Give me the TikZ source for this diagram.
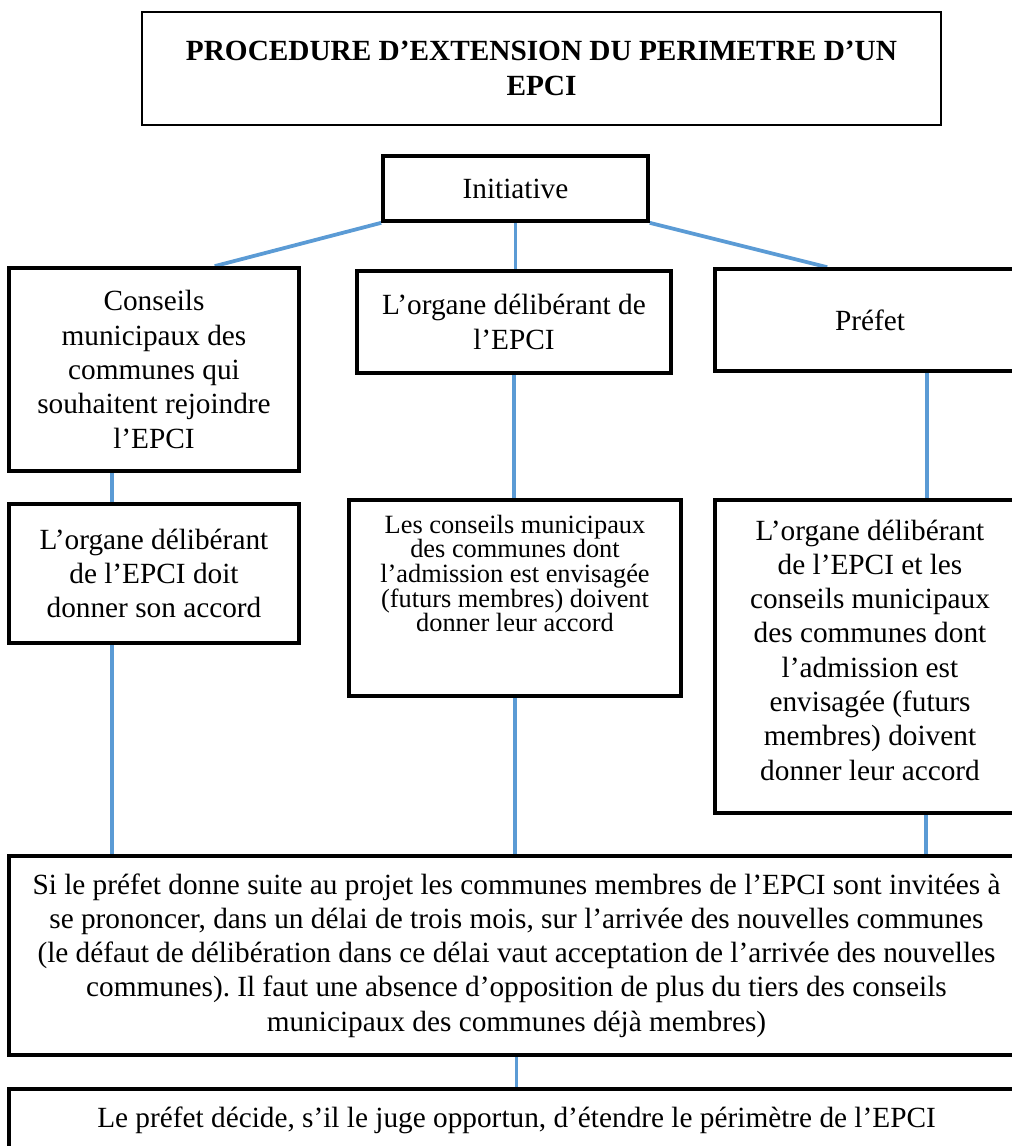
\documentclass[tikz,border=0pt]{standalone}
\usepackage{fontspec}
\setmainfont{Liberation Serif}
\frenchspacing
\usetikzlibrary{backgrounds}
\definecolor{linkblue}{RGB}{91,155,213}

\begin{document}
\begin{tikzpicture}[
    box/.style={draw, line width=1.8pt, fill=white, align=center, font=\fontsize{14}{16.4}\selectfont},
    topbox/.style={draw, line width=1.8pt, fill=white, inner xsep=0pt},
    link/.style={draw=linkblue, line width=1.8pt}
]
  \useasboundingbox (0,0) rectangle (17.0,-19.253);

  % Titre
  \node[box, line width=0.8pt, minimum width=13.42cm, minimum height=1.90cm, font=\fontsize{14}{16.4}\selectfont\bfseries] (titre) at (9.097,-1.151) {PROCEDURE D’EXTENSION DU PERIMETRE D’UN\\EPCI};

  % Initiative
  \node[box, minimum width=4.45cm, minimum height=1.09cm] (init) at (8.660,-3.167) {Initiative};

  % Qui prend l'initiative
  \node[box, minimum width=4.87cm, minimum height=3.41cm] (conseils) at (2.587,-6.208) {Conseils\\municipaux des\\communes qui\\souhaitent rejoindre\\l’EPCI};
  \node[box, minimum width=5.28cm, minimum height=1.71cm] (organe) at (8.635,-5.410) {L’organe délibérant de\\l’EPCI};
  \node[box, minimum width=5.21cm, minimum height=1.71cm] (prefet) at (14.616,-5.376) {Préfet};

  % Accords
  \node[box, minimum width=4.87cm, minimum height=2.335cm] (accordA) at (2.587,-9.635) {L’organe délibérant\\de l’EPCI doit\\donner son accord};
  \node[topbox, inner ysep=0.25cm] (accordB) at (8.652,-10.046) {\parbox[c][2.793cm][t]{5.578cm}{\centering\fontsize{12.6}{11.8}\selectfont
    Les conseils municipaux\\des communes dont\\l’admission est envisagée\\(futurs membres) doivent\\donner leur accord}};
  \node[topbox, inner ysep=0.33cm] (accordC) at (14.616,-11.029) {\parbox[c][4.598cm][t]{5.21cm}{\centering\fontsize{14}{16.4}\selectfont
    L’organe délibérant\\de l’EPCI et les\\conseils municipaux\\des communes dont\\l’admission est\\envisagée (futurs\\membres) doivent\\donner leur accord}};

  % Consultation et decision
  \node[box, minimum width=17.05cm, minimum height=3.343cm] (consult) at (8.677,-16.052) {Si le préfet donne suite au projet les communes membres de l’EPCI sont invitées à\\se prononcer, dans un délai de trois mois, sur l’arrivée des nouvelles communes\\(le défaut de délibération dans ce délai vaut acceptation de l’arrivée des nouvelles\\communes). Il faut une absence d’opposition de plus du tiers des conseils\\municipaux des communes déjà membres)};
  \node[box, minimum width=17.05cm, minimum height=1.058cm] (decision) at (8.677,-18.824) {Le préfet décide, s’il le juge opportun, d’étendre le périmètre de l’EPCI};

  % Liens
  \begin{scope}[on background layer]
    \draw[link] (init.south west) -- ([xshift=1.02cm]conseils.north);
    \draw[link] (init.south) -- (init.south |- organe.north);
    \draw[link] (init.south east) -- ([xshift=-0.72cm]prefet.north);
    \draw[link] ([xshift=-0.71cm]conseils.south) -- ([xshift=-0.71cm]accordA.north);
    \draw[link] (organe.south) -- (organe.south |- accordB.north);
    \draw[link] ([xshift=0.96cm]prefet.south) -- ([xshift=0.96cm]prefet.south |- accordC.north);
    \draw[link] ([xshift=-0.71cm]accordA.south) -- ([xshift=-0.71cm]accordA.south |- consult.north);
    \draw[link] (accordB.south) -- (accordB.south |- consult.north);
    \draw[link] ([xshift=0.94cm]accordC.south) -- ([xshift=0.94cm]accordC.south |- consult.north);
    \draw[link] (consult.south) -- (consult.south |- decision.north);
  \end{scope}
\end{tikzpicture}
\end{document}
